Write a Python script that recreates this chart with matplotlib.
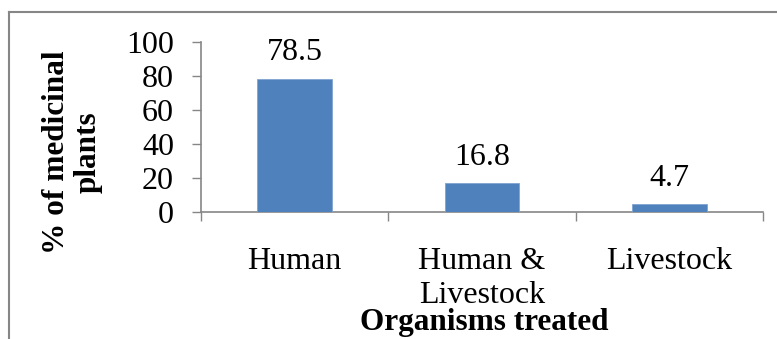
import numpy as np
import matplotlib.pyplot as plt
from matplotlib.lines import Line2D
from matplotlib.ticker import FixedLocator

# --- Data ---
categories = ["Human", "Human &\nLivestock", "Livestock"]
percent = [78.5, 16.8, 4.7]
yticks = [0, 20, 40, 60, 80, 100]

plt.rcParams['font.family'] = ['Liberation Serif', 'DejaVu Serif']

W, H = 777, 339
fig = plt.figure(figsize=(W / 100, H / 100), dpi=100)

# axes box in pixel terms
left, right, top, bottom = 201, 763, 42, 212
ax = fig.add_axes([left / W, 1 - bottom / H, (right - left) / W, (bottom - top) / H])

bar_color = '#4F81BD'
axis_gray = '#868686'

x = np.arange(len(categories))
bars = ax.bar(x, percent, width=0.4, color=bar_color, edgecolor='#7FA3CF', linewidth=0.6, zorder=3)

for xi, v in zip(x, percent):
    ax.annotate(f"{v}", (xi, v), xytext=(0, 13), textcoords='offset points',
                ha='center', va='baseline', fontsize=23)

ax.set_xlim(-0.5, len(categories) - 0.5)
ax.set_ylim(0, 100)
ax.set_yticks(yticks)
ax.set_yticklabels([str(t) for t in yticks], fontsize=23)
ax.tick_params(axis='y', direction='out', length=6.5, width=1, color=axis_gray, pad=13)

# category labels centred, tick marks on the boundaries
ax.set_xticks(x)
ax.set_xticklabels(categories, fontsize=23, linespacing=1.22)
ax.tick_params(axis='x', which='major', length=0, pad=25)
ax.xaxis.set_minor_locator(FixedLocator(np.arange(-0.5, len(categories), 1.0)))
ax.tick_params(axis='x', which='minor', direction='out', length=6.5, width=1, color=axis_gray)

for side in ['top', 'right']:
    ax.spines[side].set_visible(False)
for side in ['left', 'bottom']:
    ax.spines[side].set_color(axis_gray)
    ax.spines[side].set_linewidth(1.2)

# axis titles
fig.text(72 / W, 1 - 152 / H, "% of medicinal\nplants", rotation=90, ha='center', va='center',
         multialignment='center', fontsize=22.5, fontweight='bold', linespacing=1.12)
fig.text(484 / W, 1 - 330 / H, "Organisms treated", ha='center', va='baseline',
         fontsize=22.5, fontweight='bold')

# chart area border (top and left edges)
fig.add_artist(Line2D([9 / W, 1], [1 - 12 / H, 1 - 12 / H], color=axis_gray, linewidth=1.5,
                      transform=fig.transFigure))
fig.add_artist(Line2D([9 / W, 9 / W], [0, 1 - 12 / H], color=axis_gray, linewidth=1.5,
                      transform=fig.transFigure))

fig.savefig("out.png", dpi=100)
